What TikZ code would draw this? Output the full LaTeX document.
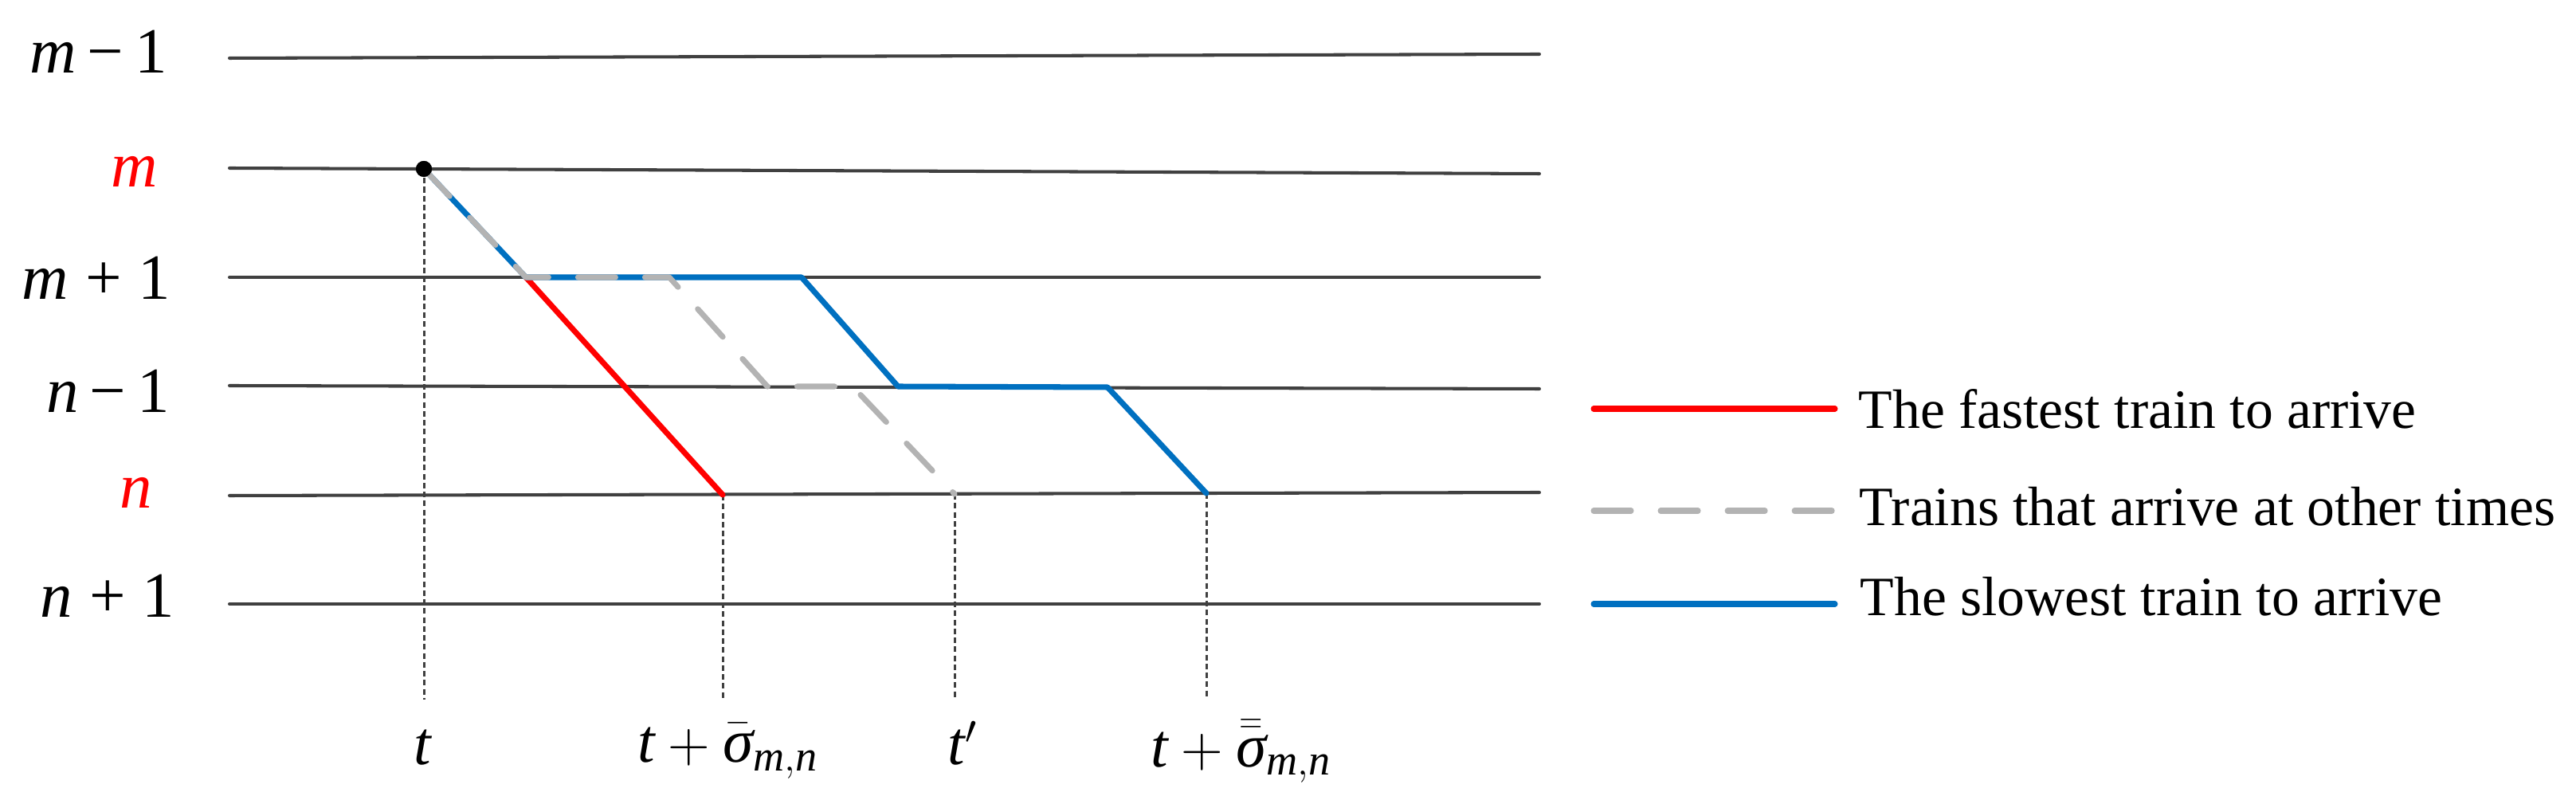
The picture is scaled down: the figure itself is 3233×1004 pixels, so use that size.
\documentclass[tikz,border=0pt]{standalone}
\usepackage{amsmath}
\usepackage{fontspec}
\setmainfont{Liberation Serif}
\definecolor{trred}{HTML}{FF0000}
\definecolor{trblue}{HTML}{0070C0}
\definecolor{trgray}{HTML}{B3B3B3}
\definecolor{axisgray}{HTML}{404040}
\newcommand\iv[1]{\text{\itshape #1}}
\begin{document}
\begin{tikzpicture}[x=0.01cm,y=-0.01cm,
  station/.style={draw=axisgray,line width=1.15pt,line cap=round},
  trainline/.style={line width=2pt,line cap=round,line join=round},
  fastline/.style={trainline,draw=trred},
  slowline/.style={trainline,draw=trblue},
  otherline/.style={trainline,draw=trgray,dash pattern=on 0.47cm off 0.37cm},
  timeline/.style={draw=axisgray,line width=0.85pt,dash pattern=on 2pt off 1.2pt},
  stlabel/.style={anchor=base west,inner sep=0pt,font=\fontsize{23}{28}\selectfont},
  tlabel/.style={anchor=base west,inner sep=0pt,font=\fontsize{22}{26}\selectfont},
  leglabel/.style={anchor=base west,inner sep=0pt,font=\fontsize{19.8}{24}\selectfont}]
\useasboundingbox (0,0) rectangle (3233,1004);

% station lines
\coordinate (h0a) at (288,73);  \coordinate (h0b) at (1932,68);
\coordinate (h1a) at (288,211); \coordinate (h1b) at (1932,218);
\coordinate (h2a) at (288,348); \coordinate (h2b) at (1932,348);
\coordinate (h3a) at (288,484); \coordinate (h3b) at (1932,488);
\coordinate (h4a) at (288,622); \coordinate (h4b) at (1932,618);
\coordinate (h5a) at (288,758); \coordinate (h5b) at (1932,758);
\foreach \i in {0,...,5} {\draw[station] (h\i a) -- (h\i b);}

% station labels
\node[stlabel] (lm1) at (37,92) {\textit{m}\hspace{0.17em}−\hspace{0.17em}1};
\node[stlabel,text=trred] (lm) at (139,235) {\textit{m}};
\node[stlabel] (lmp) at (27,376) {\textit{m}\hspace{0.26em}+\hspace{0.26em}1};
\node[stlabel] (ln1) at (58,518) {\textit{n}\hspace{0.17em}−\hspace{0.17em}1};
\node[stlabel,text=trred] (ln) at (150,638) {\textit{n}};
\node[stlabel] (lnp) at (50,775) {\textit{n}\hspace{0.26em}+\hspace{0.26em}1};

% train path points
\node[circle,fill=black,inner sep=0pt,minimum size=0.2cm] (dot) at (532,212) {};
\coordinate (P1) at (660,348);
\coordinate (R2) at (907,621);
\coordinate (B2) at (1006,348);
\coordinate (B3) at (1127,485);
\coordinate (B4) at (1390,486);
\coordinate (B5) at (1514,619);
\coordinate (G2) at (840,348);
\coordinate (G3) at (963,485);
\coordinate (G4) at (1070,485);
\coordinate (G5) at (1198,620);

% time lines
\coordinate (tb0) at (532,878);
\coordinate (tb1) at (907,877);
\coordinate (tb2) at (1198,878);
\coordinate (tb3) at (1514,876);
\draw[timeline] (dot.center) -- (tb0);
\draw[timeline] (R2) -- (tb1);
\draw[timeline] (G5) -- (tb2);
\draw[timeline] (B5) -- (tb3);

% trains
\draw[fastline] (P1) -- (R2);
\draw[slowline] (dot.center) -- (P1) -- (B2) -- (B3) -- (B4) -- (B5);
\draw[otherline] (dot.center) -- (P1) -- (G2) -- (G3) -- (G4) -- (G5);
\fill (dot.center) circle[radius=0.1cm];

% time labels
\node[tlabel] (lt) at (519,960) {$\iv{t}$};
\node[tlabel] (lfast) at (800,957) {$\iv{t}+\bar{\iv{σ}}_{\iv{m},\iv{n}}$};
\node[tlabel] (ltp) at (1189,960) {$\iv{t}^{\prime}$};
\node[tlabel] (lslow) at (1444,962) {$\iv{t}+\bar{\bar{\iv{σ}}}_{\iv{m},\iv{n}}$};

% legend
\coordinate (lg1a) at (2000,513); \coordinate (lg1b) at (2303,513);
\coordinate (lg2a) at (2000,641); \coordinate (lg2b) at (2303,641);
\coordinate (lg3a) at (2000,758); \coordinate (lg3b) at (2303,758);
\draw[fastline] (lg1a) -- (lg1b);
\draw[otherline] (lg2a) -- (lg2b);
\draw[slowline] (lg3a) -- (lg3b);
\node[leglabel] (tx1) at (2332,538) {The fastest train to arrive};
\node[leglabel] (tx2) at (2333,660) {Trains that arrive at other times};
\node[leglabel] (tx3) at (2334,773) {The slowest train to arrive};
\end{tikzpicture}
\end{document}
